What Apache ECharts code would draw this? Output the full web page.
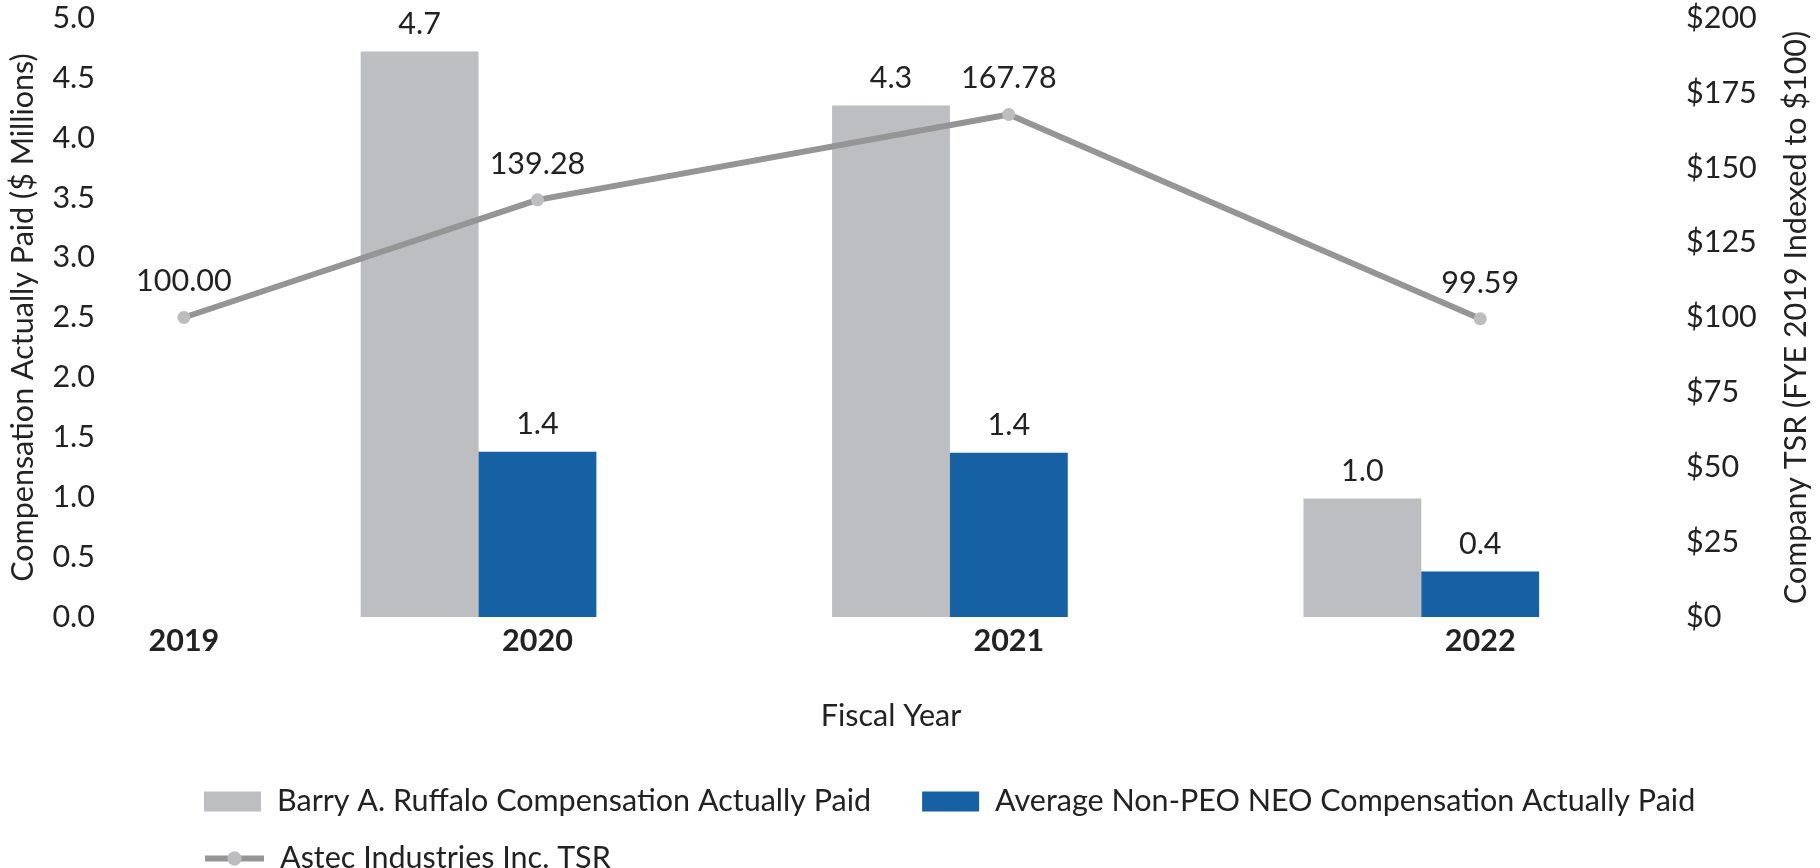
<!DOCTYPE html>
<html><head><meta charset="utf-8">
<script src="https://cdn.jsdelivr.net/npm/echarts@6/dist/echarts.min.js"></script>
<style>html,body{margin:0;padding:0;background:#fff}#c{width:1820px;height:868px}</style>
</head><body><div id="c"></div>
<script>
// ---------- data ----------
const years = ['2019', '2020', '2021', '2022'];
const ruffaloCAP = [null, 4.72, 4.27, 0.99];      // $ millions
const nonPeoCAP = [null, 1.38, 1.37, 0.38];       // $ millions
const companyTSR = [100.00, 139.28, 167.78, 99.59];
const leftTicks = { min: 0, max: 5, interval: 0.5 };
const rightTicks = { min: 0, max: 200, interval: 25 };
const seriesNames = [
  'Barry A. Ruffalo Compensation Actually Paid',
  'Average Non-PEO NEO Compensation Actually Paid',
  'Astec Industries Inc. TSR'
];
const xTitle = 'Fiscal Year';
const leftTitle = 'Compensation Actually Paid ($ Millions)';
const rightTitle = 'Company TSR (FYE 2019 Indexed to $100)';

// ---------- layout (category slots of the original chart) ----------
const SLOT_COUNT = 13;
const yearSlot = [0, 3, 7, 11];
const ruffaloShift = -1;

const slotLabels = Array.from({ length: SLOT_COUNT }, () => '');
years.forEach((y, i) => { slotLabels[yearSlot[i]] = y; });
const toSlots = (arr, shift) => arr
  .map((v, i) => (v == null ? null : [yearSlot[i] + shift, v]))
  .filter(Boolean);

// font sizing to match original text widths
const FONT = 'Lato';
const mctx = document.createElement('canvas').getContext('2d');
mctx.font = '100px ' + FONT;
const FS = Math.round(100 * 595 / mctx.measureText(seriesNames[0]).width * 10) / 10;
const TXT = '#222222';
const LINE_C = '#959595', MARK_C = '#BDBDC0';

const chart = echarts.init(document.getElementById('c'), null, { renderer: 'canvas' });
chart.setOption({
  animation: false,
  backgroundColor: '#ffffff',
  textStyle: { fontFamily: FONT, color: TXT },
  grid: { left: 120, right: 146, top: 18, bottom: 251, containLabel: false },
  legend: [
    {
      data: [seriesNames[0], seriesNames[1]],
      left: 199, top: 781, icon: 'rect',
      itemWidth: 57, itemHeight: 20, itemGap: 51,
      textStyle: { fontFamily: FONT, fontSize: FS, color: TXT, padding: [0, 0, 0, 11] }
    },
    {
      data: [seriesNames[2]],
      left: 197, top: 838,
      itemWidth: 59, itemHeight: 18,
      lineStyle: { width: 6, color: LINE_C },
      itemStyle: { color: MARK_C },
      textStyle: { fontFamily: FONT, fontSize: FS, color: TXT, padding: [0, 0, 0, 11] }
    }
  ],
  xAxis: {
    type: 'category',
    data: slotLabels,
    boundaryGap: true,
    axisLine: { show: false },
    axisTick: { show: false },
    axisLabel: { interval: 0, fontFamily: FONT, fontSize: FS, fontWeight: 'bold', color: TXT, margin: 9 },
    name: xTitle, nameLocation: 'middle', nameGap: 84,
    nameTextStyle: { fontFamily: FONT, fontSize: FS, color: TXT }
  },
  yAxis: [
    {
      type: 'value', min: leftTicks.min, max: leftTicks.max, interval: leftTicks.interval,
      axisLine: { show: false }, axisTick: { show: false }, splitLine: { show: false },
      axisLabel: { fontFamily: FONT, fontSize: FS, color: TXT, margin: 30, formatter: v => v.toFixed(1) },
      name: leftTitle, nameLocation: 'middle', nameRotate: 90, nameGap: 86,
      nameTextStyle: { fontFamily: FONT, fontSize: FS, color: TXT }
    },
    {
      type: 'value', position: 'right', min: rightTicks.min, max: rightTicks.max, interval: rightTicks.interval,
      axisLine: { show: false }, axisTick: { show: false }, splitLine: { show: false },
      axisLabel: { fontFamily: FONT, fontSize: FS, color: TXT, margin: 29, formatter: v => '$' + v },
      name: rightTitle, nameLocation: 'middle', nameRotate: 90, nameGap: 124,
      nameTextStyle: { fontFamily: FONT, fontSize: FS, color: TXT }
    }
  ],
  series: [
    {
      name: seriesNames[0], type: 'bar', yAxisIndex: 0,
      data: toSlots(ruffaloCAP, ruffaloShift),
      barGap: '-100%', barCategoryGap: '0%',
      itemStyle: { color: '#BDBEC1' },
      label: { show: true, position: 'top', distance: 12, fontFamily: FONT, fontSize: FS, color: TXT,
               formatter: p => p.value[1].toFixed(1) }
    },
    {
      name: seriesNames[1], type: 'bar', yAxisIndex: 0,
      data: toSlots(nonPeoCAP, 0),
      barGap: '-100%', barCategoryGap: '0%',
      itemStyle: { color: '#1561A4' },
      label: { show: true, position: 'top', distance: 12, fontFamily: FONT, fontSize: FS, color: TXT,
               formatter: p => p.value[1].toFixed(1) }
    },
    {
      name: seriesNames[2], type: 'line', yAxisIndex: 1,
      data: toSlots(companyTSR, 0),
      symbol: 'circle', symbolSize: 13,
      lineStyle: { color: LINE_C, width: 6 },
      itemStyle: { color: MARK_C },
      z: 5,
      label: { show: true, position: 'top', distance: 14, fontFamily: FONT, fontSize: FS, color: TXT,
               formatter: p => p.value[1].toFixed(2) }
    }
  ]
});
</script>
</body></html>
